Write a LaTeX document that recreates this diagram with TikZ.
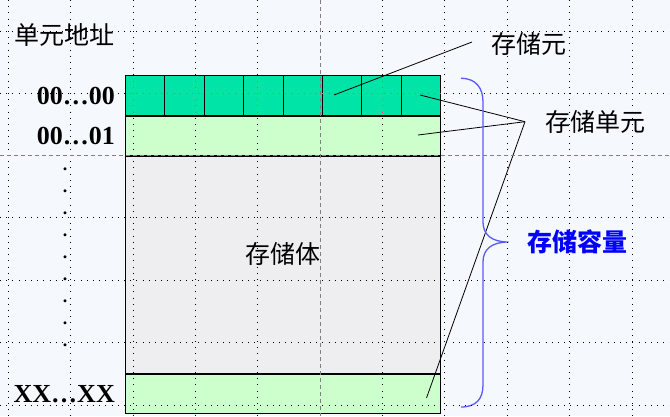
\documentclass[tikz,border=0pt]{standalone}
\usepackage{fontspec}
\setmainfont{Liberation Serif}
\newfontfamily\cjk{Noto Sans CJK SC}
\usetikzlibrary{positioning}
\definecolor{bgblue}{RGB}{245,248,252}
\definecolor{cellgreen}{RGB}{0,228,168}
\definecolor{rowgreen}{RGB}{204,255,204}
\definecolor{bodygray}{RGB}{238,238,240}
\definecolor{bracecol}{RGB}{90,90,255}
\tikzstyle{cell} = [draw,rectangle,line width=0.8pt,fill=cellgreen,minimum width=39.4pt,minimum height=39.7pt,inner sep=0pt,anchor=north west]
\tikzstyle{unitrow} = [draw,rectangle,line width=0.8pt,fill=rowgreen,minimum width=315.2pt,minimum height=39.3pt,inner sep=0pt,anchor=north west]
\tikzstyle{bodybox} = [draw,rectangle,line width=0.8pt,fill=bodygray,minimum width=315.2pt,minimum height=217pt,inner sep=0pt,anchor=north west]
\tikzstyle{addr} = [inner sep=0pt,font=\fontsize{26}{26}\selectfont\bfseries]
\tikzstyle{cjklabel} = [inner sep=0pt,font=\fontsize{25}{25}\selectfont\cjk]
\tikzstyle{line} = [line width=0.8pt]
\tikzstyle{gridline} = [line width=1pt,dash pattern=on 1pt off 5.2pt]
\tikzstyle{centreline} = [line width=0.6pt,gray,dash pattern=on 4pt off 3pt]

\begin{document}
\begin{tikzpicture}[x=1pt, y=-1pt, >=stealth]
    \fill[bgblue] (0,0) rectangle (670,416);
    \useasboundingbox (0,0) rectangle (670,416);
    % the memory: first unit split into cells, then the other units
    \foreach \i in {0,...,7}
      \node[cell] (c\i) at ({125+39.4*\i},75.3) {};
    \node[unitrow] (row1) at (c0.south west) {};
    \node[bodybox] (body) at (row1.south west) {};
    \node[unitrow] (rowN) at (body.south west) {};
    % addresses
    \node[addr, left=10pt of c0] (a0) {00…00};
    \node[addr, left=10pt of row1] (a1) {00…01};
    \node[addr, left=10pt of rowN] (aN) {XX…XX};
    \node[cjklabel, above=40pt of a0.north east, anchor=south east] (head) {单元地址};
    \node[inner sep=0pt, align=center, anchor=south, font=\fontsize{18}{21.9}\selectfont\bfseries]
      (vdots) at (65,346.5) {.\\.\\.\\.\\.\\.\\.\\.\\.};
    \node[cjklabel] (bodytxt) at ([yshift=11pt]body.center) {存储体};
    % labels on the right
    \node[cjklabel] (elem) at (528.7,44) {存储元};
    \node[cjklabel] (unit) at (595,121.5) {存储单元};
    \coordinate (tip) at (508.5,242);
    \node[cjklabel, right=19pt of tip, text=blue, font=\fontsize{25}{25}\selectfont\cjk\bfseries] (cap) {存储容量};
    % points the connectors reach
    \coordinate (elemfoot) at (472,42);
    \coordinate (hub) at (525,121.7);
    \coordinate (pcell) at (334,95);
    \coordinate (pu0) at (420,95);
    \coordinate (pu1) at (418,135);
    \coordinate (puN) at (426.5,398);
    % now link the nodes
    \draw [line] (elemfoot) -- (pcell);
    \draw [line] (hub) -- (pu0);
    \draw [line] (hub) -- (pu1);
    \draw [line] (hub) -- (puN);
    % brace
    \draw [bracecol, line width=1.3pt] (461,78.3) .. controls (476,78.3) and (483,88) .. (483,102)
      -- (483,222) .. controls (483,235) and (492,242) .. (tip)
      .. controls (492,242) and (483,249) .. (483,262)
      -- (483,385) .. controls (483,399) and (476,407) .. (461,407);
    % grid of the slide
    \foreach \x in {8,70.5,133,195,257.5,382,444.5,507,569.5,632}
      \draw [gridline] (\x,0) -- (\x,416);
    \foreach \y in {31,93,217,280,342,405}
      \draw [gridline] (0,\y) -- (670,\y);
    \draw [centreline] (320,0) -- (320,416);
    \draw [centreline] (0,155) -- (670,155);
    \begin{scope}
      \clip (c0.north west) rectangle (c7.south east);
      \foreach \x in {133,195,257.5,382}
        \draw [gridline, red!70] (\x,0) -- (\x,416);
      \draw [gridline, red!70] (0,93) -- (670,93);
    \end{scope}
\end{tikzpicture}
\end{document}
